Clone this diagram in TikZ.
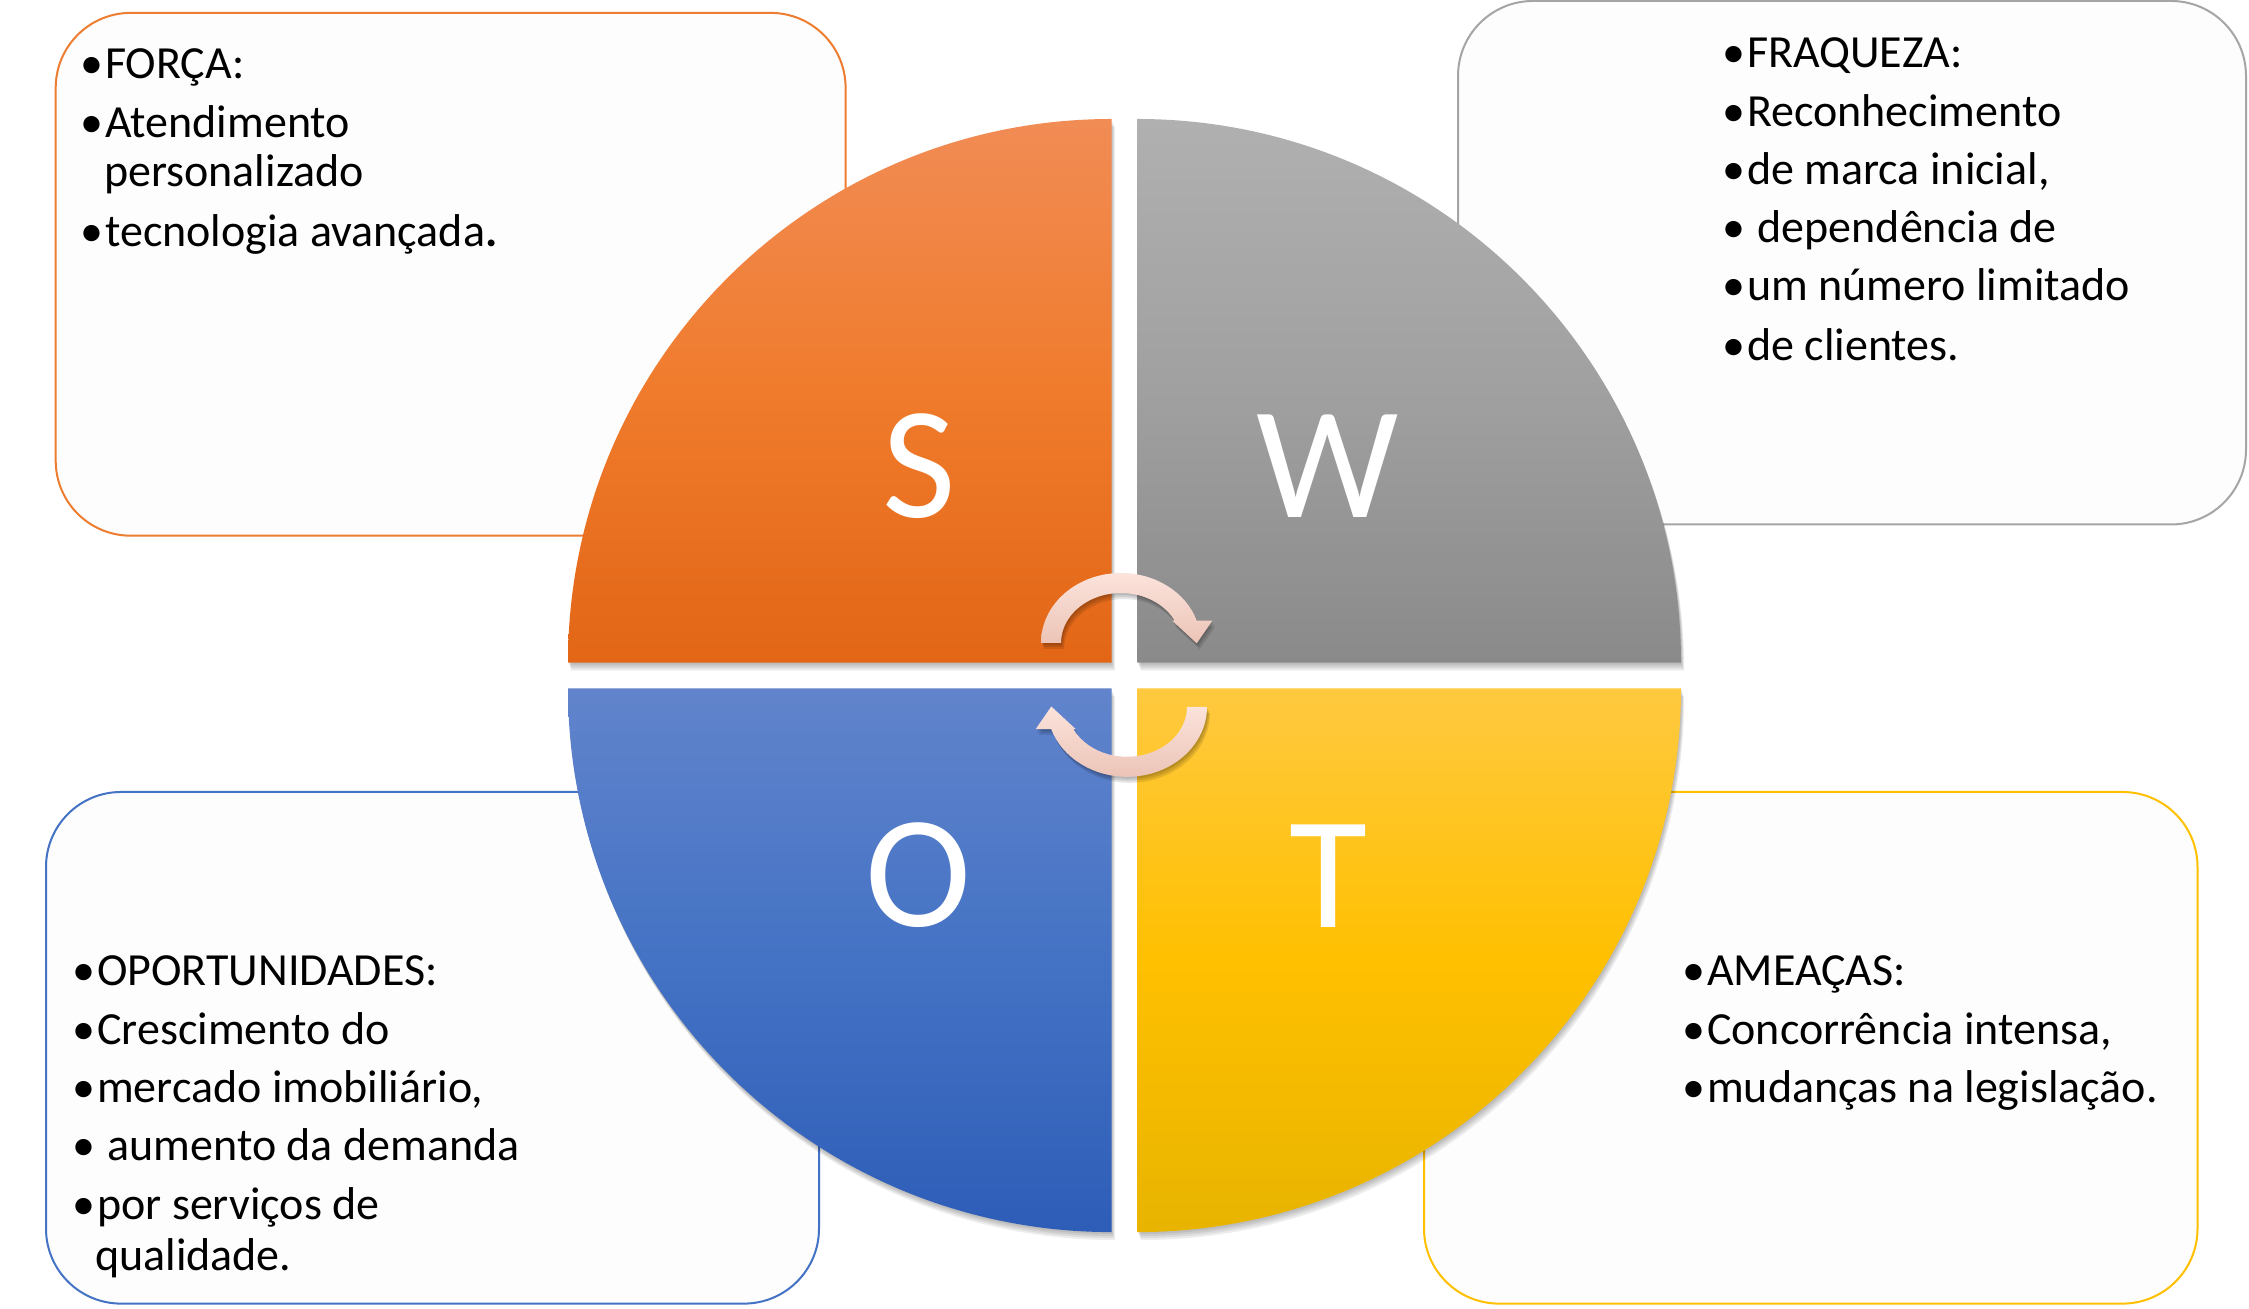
\documentclass[tikz,border=0pt]{standalone}
\usepackage{fontspec}
\setmainfont{Carlito}
\newcommand\swotbul{\makebox[25pt][l]{•}}
\begin{document}
\begin{tikzpicture}[x=1pt,y=1pt,
  card/.style={draw, line width=2pt, fill=black!0.7, rounded corners=75pt,
    inner sep=0pt, outer sep=0pt, minimum width=#1},
  item/.style={anchor=base west, inner sep=0pt, font=\fontsize{46}{50}\selectfont, yshift=-3pt},
  letter/.style={anchor=base, inner sep=0pt, text=white, font=\fontsize{160}{160}\selectfont},
  shadowlayer/.style={fill=black, opacity=0.07},
  quadS/.style={insert path={(1111.6,646.4) -- ++(-543.6,0) arc[start angle=180,end angle=90,radius=543.6] -- cycle}},
  quadW/.style={insert path={(1137.4,646.4) -- ++(0,543.6) arc[start angle=90,end angle=0,radius=543.6] -- cycle}},
  quadO/.style={insert path={(1111.6,620.5) -- ++(-543.6,0) arc[start angle=180,end angle=270,radius=543.6] -- cycle}},
  quadT/.style={insert path={(1137.4,620.5) -- ++(543.6,0) arc[start angle=0,end angle=-90,radius=543.6] -- cycle}},
  cycTop/.style={insert path={(1041,666) arc[start angle=180,end angle=18.58,x radius=80,y radius=70]
    -- (1212.3,688.3) -- (1196.7,665.7) -- (1172.3,688.3) -- (1174.7,688.3)
    arc[start angle=26.49,end angle=180,x radius=60,y radius=50] -- cycle}},
  cycBot/.style={insert path={(1207,602.2) arc[start angle=0,end angle=-161.42,x radius=80,y radius=70]
    -- (1035.7,579.9) -- (1051.3,602.5) -- (1075.7,579.9) -- (1073.3,579.9)
    arc[start angle=-153.51,end angle=0,x radius=60,y radius=50] -- cycle}},
]
\useasboundingbox (0,0) rectangle (2249,1309);
\fill[white] (0,0) rectangle (2249,1309);

% text cards behind the circle
\node[card=789.9pt, minimum height=522.8pt, draw={rgb,255:red,237;green,125;blue,49}] (boxS) at (450.65,1034.7) {};
\node[card=788pt, minimum height=523.5pt, draw={rgb,255:red,165;green,165;blue,165}] (boxW) at (1852,1046.25) {};
\node[card=773pt, minimum height=511.6pt, draw={rgb,255:red,68;green,114;blue,196}] (boxO) at (432.5,261.2) {};
\node[card=773.5pt, minimum height=511.6pt, draw={rgb,255:red,255;green,192;blue,0}] (boxT) at (1810.75,261.2) {};

% soft shadows of the four quarters
\foreach \q in {quadS,quadW,quadO,quadT}{
  \foreach \d in {2,4,6,8}{
    \fill[shadowlayer, shift={(0.4*\d,-\d)}, \q];
  }
}

% the four quarters
\shade[top color={rgb,255:red,241;green,140;blue,85}, bottom color={rgb,255:red,226;green,102;blue,22},
  middle color={rgb,255:red,240;green,123;blue,44}, quadS];
\shade[top color={rgb,255:red,176;green,176;blue,176}, bottom color={rgb,255:red,138;green,138;blue,138},
  middle color={rgb,255:red,160;green,160;blue,160}, quadW];
\shade[top color={rgb,255:red,97;green,132;blue,204}, bottom color={rgb,255:red,46;green,93;blue,184},
  middle color={rgb,255:red,68;green,114;blue,196}, quadO];
\shade[top color={rgb,255:red,255;green,201;blue,64}, bottom color={rgb,255:red,232;green,180;blue,0},
  middle color={rgb,255:red,255;green,192;blue,0}, quadT];

% letters
\node[letter] (S) at (919.6,791) {S};
\node[letter] (W) at (1327.5,791) {W};
\node[letter] (O) at (918.7,382) {O};
\node[letter] (T) at (1328,381.5) {T};

% circular arrows in the middle
\foreach \d in {2,4,6}{
  \fill[shadowlayer, opacity=0.1, shift={(0.5*\d,-\d)}, cycTop];
  \fill[shadowlayer, opacity=0.1, shift={(0.5*\d,-\d)}, cycBot];
}
\shade[top color={rgb,255:red,251;green,227;blue,219}, bottom color={rgb,255:red,236;green,196;blue,183}, cycTop];
\shade[top color={rgb,255:red,251;green,227;blue,219}, bottom color={rgb,255:red,236;green,196;blue,183}, cycBot];

% strengths
\node[item] (s1) at (80,1233) {\swotbul FORÇA:};
\node[item] (s2) at (80,1174) {\swotbul Atendimento};
\node[item] (s3) at (104,1125) {personalizado};
\node[item] (s4) at (80,1065) {\swotbul tecnologia avançada\textbf{.}};

% weaknesses
\node[item] (w1) at (1722,1244.3) {\swotbul FRAQUEZA:};
\node[item] (w2) at (1722,1185) {\swotbul Reconhecimento};
\node[item] (w3) at (1722,1127.5) {\swotbul de marca inicial,};
\node[item] (w4) at (1722,1069) {\swotbul\ dependência de};
\node[item] (w5) at (1722,1011) {\swotbul um número limitado};
\node[item] (w6) at (1722,951.6) {\swotbul de clientes.};

% opportunities
\node[item] (o1) at (72,326.6) {\swotbul OPORTUNIDADES:};
\node[item] (o2) at (72,267.5) {\swotbul Crescimento do};
\node[item] (o3) at (72,209.2) {\swotbul mercado imobiliário,};
\node[item] (o4) at (72,151.1) {\swotbul\ aumento da demanda};
\node[item] (o5) at (72,92) {\swotbul por serviços de};
\node[item] (o6) at (95,41.5) {qualidade.};

% threats
\node[item] (t1) at (1682,326.6) {\swotbul AMEAÇAS:};
\node[item] (t2) at (1682,267.5) {\swotbul Concorrência intensa,};
\node[item] (t3) at (1682,209.2) {\swotbul mudanças na legislação.};
\end{tikzpicture}
\end{document}
